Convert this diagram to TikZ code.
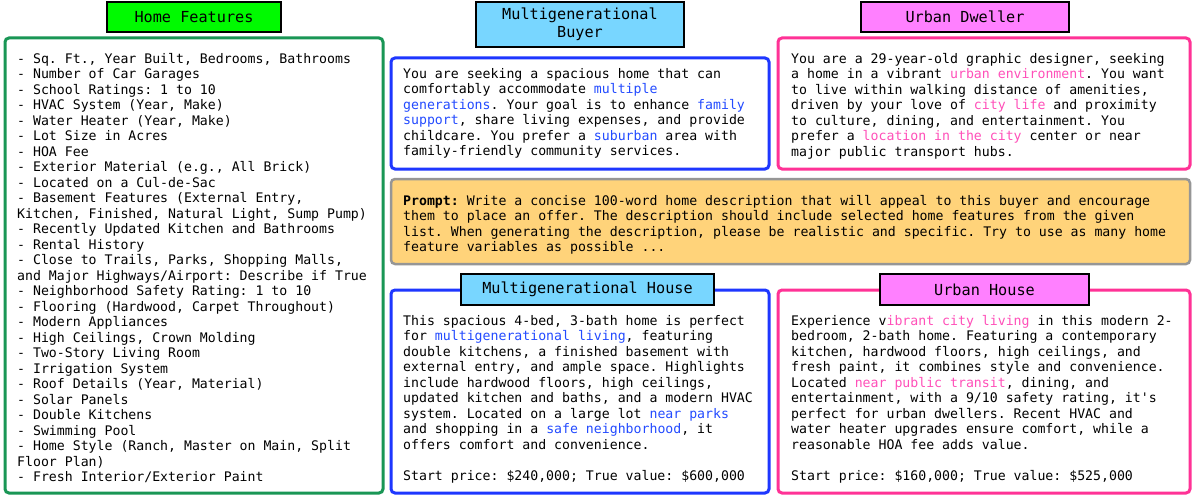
\documentclass[tikz,border=0pt]{standalone}
\usepackage{fontspec}
\setmonofont{DejaVu Sans Mono}
\definecolor{grnborder}{RGB}{25,150,85}
\definecolor{bluborder}{RGB}{30,55,255}
\definecolor{pnkborder}{RGB}{255,50,150}
\definecolor{blutext}{RGB}{35,75,255}
\definecolor{pnktext}{RGB}{255,80,185}
\definecolor{grnfill}{RGB}{0,250,0}
\definecolor{blufill}{RGB}{120,214,255}
\definecolor{pnkfill}{RGB}{255,128,255}
\definecolor{promptfill}{RGB}{255,211,122}
\definecolor{promptborder}{RGB}{150,150,150}
\newcommand{\bl}[1]{\textcolor{blutext}{#1}}
\newcommand{\pk}[1]{\textcolor{pnktext}{#1}}
\begin{document}
\begin{tikzpicture}[x=1pt,y=-1pt,
  panel/.style={line width=3pt, rounded corners=4pt, fill=white},
  titlebox/.style={draw=black, line width=2pt, inner sep=0pt, align=center,
    font=\ttfamily\fontsize{15.2}{17.5}\selectfont},
  body/.style={anchor=north west, inner sep=0pt, align=left,
    font=\ttfamily\frenchspacing\fontsize{13.2}{15.5}\selectfont}]
\useasboundingbox (0,0) rectangle (1192,495);
\fill[white] (0,0) rectangle (1192,495);

% panels
\draw[panel, draw=grnborder] (5,38) rectangle (383,493);
\draw[panel, draw=bluborder] (391,58) rectangle (769,169);
\draw[panel, draw=pnkborder] (778,38) rectangle (1190,169);
\draw[line width=2.5pt, rounded corners=4pt, draw=promptborder, fill=promptfill] (391,179) rectangle (1190,264);
\draw[panel, draw=bluborder] (391,290) rectangle (769,493);
\draw[panel, draw=pnkborder] (778,290) rectangle (1190,493);

% titles
\node[titlebox, fill=grnfill, minimum width=174pt, minimum height=30pt] (homefeat) at (194,17) {Home Features};
\node[titlebox, fill=blufill, minimum width=208pt, minimum height=45pt] (mgbuyer) at (580,24.5) {Multigenerational\\Buyer};
\node[titlebox, fill=pnkfill, minimum width=208pt, minimum height=30pt] (urbdweller) at (965,17) {Urban Dweller};
\node[titlebox, fill=blufill, minimum width=253pt, minimum height=31pt] (mghouse) at (587.5,289.5) {Multigenerational House};
\node[titlebox, fill=pnkfill, minimum width=209pt, minimum height=31pt] (urbhouse) at (984.5,289.5) {Urban House};

% bodies
\node[body] (features) at (17,52.15) {\strut- Sq. Ft., Year Built, Bedrooms, Bathrooms\\
- Number of Car Garages\\
- School Ratings: 1 to 10\\
- HVAC System (Year, Make)\\
- Water Heater (Year, Make)\\
- Lot Size in Acres\\
- HOA Fee\\
- Exterior Material (e.g., All Brick)\\
- Located on a Cul-de-Sac\\
- Basement Features (External Entry,\\
Kitchen, Finished, Natural Light, Sump Pump)\\
- Recently Updated Kitchen and Bathrooms\\
- Rental History\\
- Close to Trails, Parks, Shopping Malls,\\
and Major Highways/Airport: Describe if True\\
- Neighborhood Safety Rating: 1 to 10\\
- Flooring (Hardwood, Carpet Throughout)\\
- Modern Appliances\\
- High Ceilings, Crown Molding\\
- Two-Story Living Room\\
- Irrigation System\\
- Roof Details (Year, Material)\\
- Solar Panels\\
- Double Kitchens\\
- Swimming Pool\\
- Home Style (Ranch, Master on Main, Split\\
Floor Plan)\\
- Fresh Interior/Exterior Paint};

\node[body] (mgbuyertext) at (403,67.15) {\strut You are seeking a spacious home that can\\
comfortably accommodate \bl{multiple}\\
\bl{generations}. Your goal is to enhance \bl{family}\\
\bl{support}, share living expenses, and provide\\
childcare. You prefer a \bl{suburban} area with\\
family-friendly community services.};

\node[body] (urbdwellertext) at (791,52.15) {\strut You are a 29-year-old graphic designer, seeking\\
a home in a vibrant \pk{urban environment}. You want\\
to live within walking distance of amenities,\\
driven by your love of \pk{city life} and proximity\\
to culture, dining, and entertainment. You\\
prefer a \pk{location in the city} center or near\\
major public transport hubs.};

\node[body] (prompt) at (403,194.15) {\strut\textbf{Prompt:} Write a concise 100-word home description that will appeal to this buyer and encourage\\
them to place an offer. The description should include selected home features from the given\\
list. When generating the description, please be realistic and specific. Try to use as many home\\
feature variables as possible ...};

\node[body] (mghousetext) at (403,314.15) {\strut This spacious 4-bed, 3-bath home is perfect\\
for \bl{multigenerational living}, featuring\\
double kitchens, a finished basement with\\
external entry, and ample space. Highlights\\
include hardwood floors, high ceilings,\\
updated kitchen and baths, and a modern HVAC\\
system. Located on a large lot \bl{near parks}\\
and shopping in a \bl{safe neighborhood}, it\\
offers comfort and convenience.\\[15.5pt]
Start price: \$240,000; True value: \$600,000};

\node[body] (urbhousetext) at (791,314.15) {\strut Experience v\pk{ibrant city living} in this modern 2-\\
bedroom, 2-bath home. Featuring a contemporary\\
kitchen, hardwood floors, high ceilings, and\\
fresh paint, it combines style and convenience.\\
Located \pk{near public transit}, dining, and\\
entertainment, with a 9/10 safety rating, it's\\
perfect for urban dwellers. Recent HVAC and\\
water heater upgrades ensure comfort, while a\\
reasonable HOA fee adds value.\\[15.5pt]
Start price: \$160,000; True value: \$525,000};
\end{tikzpicture}
\end{document}
